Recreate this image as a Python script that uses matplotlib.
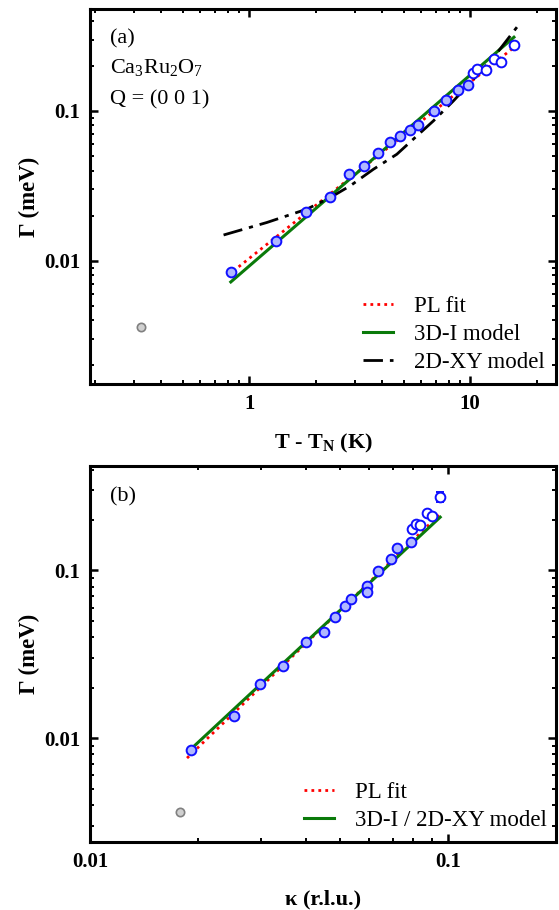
import matplotlib
matplotlib.use("Agg")
import matplotlib.pyplot as plt
from matplotlib.ticker import LogLocator, FuncFormatter, NullFormatter
import numpy as np

plt.rcParams['font.family'] = ['Liberation Serif', 'DejaVu Serif']
plt.rcParams['mathtext.fontset'] = 'custom'
plt.rcParams['mathtext.rm'] = 'Liberation Serif'
plt.rcParams['mathtext.it'] = 'Liberation Serif:italic'
plt.rcParams['mathtext.bf'] = 'Liberation Serif:bold'

# ---- Panel (a) data: Gamma vs T - T_N ----
t_a = [0.825, 1.32, 1.816, 2.33, 2.835, 3.325, 3.83, 4.34, 4.83, 5.34, 5.84,
       6.85, 7.8, 8.81, 9.82, 10.3, 10.8, 11.8, 12.8, 13.8, 15.8]
gamma_a = [0.00841, 0.0135, 0.0213, 0.0268, 0.0377, 0.0428, 0.0523, 0.0616,
           0.0682, 0.0748, 0.0803, 0.100, 0.1178, 0.138, 0.148, 0.179, 0.190,
           0.188, 0.223, 0.212, 0.277]
gerr_a = [0.0002, 0.0003, 0.0005, 0.0006, 0.0008, 0.0009, 0.0011, 0.0013,
          0.0014, 0.0016, 0.0017, 0.002, 0.0025, 0.003, 0.003, 0.004, 0.004,
          0.004, 0.006, 0.006, 0.012]
outlier_a_x = [0.323]
outlier_a_y = [0.00358]

# PL fit & 3D-I lines (endpoints, straight in log-log)
pl_a_x = [0.846, 15.7]
pl_a_y = [0.00851, 0.264]
i3d_a_x = [0.825, 15.8]
i3d_a_y = [0.00721, 0.311]
# 2D-XY model curve
xy_a_x = [0.765, 1.203, 1.824, 2.326, 2.864, 3.65, 4.66, 5.74, 6.82, 8.4,
          10.35, 12.75, 16.3]
xy_a_y = [0.01484, 0.0180, 0.0221, 0.0264, 0.0316, 0.0408, 0.0514, 0.0681,
          0.0858, 0.1166, 0.1626, 0.227, 0.363]

# ---- Panel (b) data: Gamma vs kappa ----
k_b = [0.0191, 0.0252, 0.02977, 0.0345, 0.040, 0.045, 0.0484, 0.0516, 0.0534,
       0.0594, 0.0595, 0.0637, 0.0692, 0.0721, 0.0787, 0.0792, 0.0812, 0.0835,
       0.087, 0.0902, 0.0949]
gamma_b = [0.00844, 0.01346, 0.0211, 0.0268, 0.0375, 0.0429, 0.0525, 0.0613,
           0.0678, 0.0803, 0.0739, 0.099, 0.1163, 0.137, 0.147, 0.176, 0.190,
           0.186, 0.221, 0.212, 0.275]
gerr_b = [0.0002, 0.0003, 0.0005, 0.0006, 0.0008, 0.0009, 0.0011, 0.0013,
          0.0014, 0.0017, 0.0016, 0.002, 0.0025, 0.003, 0.003, 0.004, 0.004,
          0.004, 0.006, 0.006, 0.018]
outlier_b_x = [0.0178]
outlier_b_y = [0.00362]

pl_b_x = [0.01866, 0.0950]
pl_b_y = [0.00760, 0.2177]
m_b_x = [0.0192, 0.0950]
m_b_y = [0.00866, 0.208]

n_filled = 15

fig = plt.figure(figsize=(5.59, 9.10), dpi=100)
W, H = 559, 910
def ax_rect(l, r, t, b):
    return [l / W, 1 - b / H, (r - l) / W, (b - t) / H]

axA = fig.add_axes(ax_rect(90, 556, 9, 384))
axB = fig.add_axes(ax_rect(90, 556, 466, 842))

fmt = FuncFormatter(lambda v, p: '%g' % v)

def style(ax):
    ax.set_xscale('log')
    ax.set_yscale('log')
    for s in ax.spines.values():
        s.set_linewidth(2.2)
    ax.xaxis.set_major_locator(LogLocator(base=10, numticks=20))
    ax.yaxis.set_major_locator(LogLocator(base=10, numticks=20))
    ax.xaxis.set_minor_locator(LogLocator(base=10, subs=np.arange(2, 10), numticks=20))
    ax.yaxis.set_minor_locator(LogLocator(base=10, subs=np.arange(2, 10), numticks=20))
    ax.xaxis.set_major_formatter(fmt)
    ax.yaxis.set_major_formatter(fmt)
    ax.xaxis.set_minor_formatter(NullFormatter())
    ax.yaxis.set_minor_formatter(NullFormatter())
    ax.tick_params(which='both', direction='in', top=True, right=True)
    ax.tick_params(which='major', length=5.5, width=1.8, labelsize=15, pad=7)
    ax.tick_params(which='minor', length=2.8, width=1.4)
    for lab in ax.get_xticklabels() + ax.get_yticklabels():
        lab.set_fontweight('bold')

def draw_points(ax, x, y, e):
    for i in range(len(x)):
        fc = '#b0b8ff' if i < n_filled else 'white'
        ax.errorbar([x[i]], [y[i]], yerr=[e[i]], fmt='o', ms=7,
                    mfc=fc, mec='#1010ff', mew=1.4, ecolor='#1010ff',
                    elinewidth=1.0, capsize=3, capthick=1.0, zorder=5)

def draw_outlier(ax, x, y):
    ax.errorbar(x, y, yerr=[0.00008], fmt='o', ms=6, mfc='#d0d0d0',
                mec='#808080', mew=1.2, ecolor='#808080', elinewidth=1.0,
                capsize=2.5, capthick=1.0, zorder=5)

# ---- Panel (a) ----
style(axA)
axA.plot(pl_a_x, pl_a_y, color='red', ls=(0, (1, 1.5)), lw=2.0, label='PL fit', zorder=3)
axA.plot(i3d_a_x, i3d_a_y, color='#0a7a0a', ls='-', lw=2.2, label='3D-I model', zorder=3)
axA.plot(xy_a_x, xy_a_y, color='black', ls=(0, (7, 2.5, 1.5, 2.5)), lw=2.0,
         label='2D-XY model', zorder=3)
draw_points(axA, t_a, gamma_a, gerr_a)
draw_outlier(axA, outlier_a_x, outlier_a_y)
axA.set_xlim(0.19, 24.5)
axA.set_ylim(0.0015, 0.48)
axA.set_xlabel(r'T - T$_{\mathbf{N}}$ (K)', fontsize=16, fontweight='bold', labelpad=13)
axA.set_ylabel('Γ (meV)', fontsize=16.5, fontweight='bold', labelpad=3)
axA.text(0.043, 0.92, '(a)', transform=axA.transAxes, fontsize=16, va='center')
axA.text(0.043, 0.843, r'Ca$_3$Ru$_2$O$_7$', transform=axA.transAxes, fontsize=16, va='center')
axA.text(0.043, 0.757, 'Q = (0 0 1)', transform=axA.transAxes, fontsize=16, va='center')
axA.legend(loc='lower right', bbox_to_anchor=(0.975, 0.03), frameon=False,
           fontsize=16.5, handlelength=1.3, handletextpad=0.9, labelspacing=0.3,
           borderpad=0, borderaxespad=0)

# ---- Panel (b) ----
style(axB)
axB.plot(pl_b_x, pl_b_y, color='red', ls=(0, (1, 1.5)), lw=2.0, label='PL fit', zorder=3)
axB.plot(m_b_x, m_b_y, color='#0a7a0a', ls='-', lw=2.2, label='3D-I / 2D-XY model', zorder=3)
draw_points(axB, k_b, gamma_b, gerr_b)
draw_outlier(axB, outlier_b_x, outlier_b_y)
axB.set_xlim(0.01, 0.2)
axB.set_ylim(0.0024, 0.42)
axB.set_xlabel('κ (r.l.u.)', fontsize=16, fontweight='bold', labelpad=13)
axB.set_ylabel('Γ (meV)', fontsize=16.5, fontweight='bold', labelpad=3)
axB.text(0.043, 0.918, '(b)', transform=axB.transAxes, fontsize=16, va='center')
axB.legend(loc='lower right', bbox_to_anchor=(0.98, 0.03), frameon=False,
           fontsize=16.5, handlelength=1.3, handletextpad=0.9, labelspacing=0.3,
           borderpad=0, borderaxespad=0)

fig.savefig('out.png', dpi=100)
